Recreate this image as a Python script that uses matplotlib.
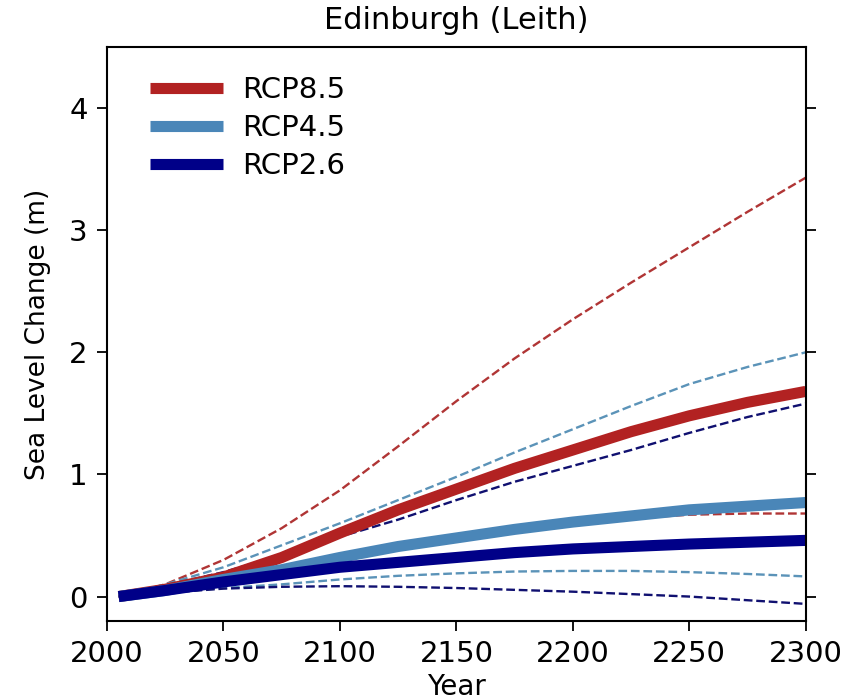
import matplotlib
matplotlib.use("Agg")
import matplotlib.pyplot as plt

# values
years = [2005, 2025, 2050, 2075, 2100, 2125, 2150, 2175, 2200, 2225, 2250, 2275, 2300]

rcp85_mid = [0.0, 0.06, 0.16, 0.32, 0.52, 0.71, 0.88, 1.05, 1.20, 1.35, 1.48, 1.59, 1.68]
rcp85_hi = [0.0, 0.10, 0.30, 0.56, 0.87, 1.23, 1.60, 1.95, 2.27, 2.57, 2.86, 3.15, 3.43]
rcp85_lo = [0.0, 0.05, 0.12, 0.21, 0.30, 0.40, 0.48, 0.55, 0.60, 0.64, 0.67, 0.68, 0.68]

rcp45_mid = [0.0, 0.05, 0.14, 0.22, 0.32, 0.41, 0.48, 0.55, 0.61, 0.66, 0.71, 0.74, 0.77]
rcp45_hi = [0.0, 0.10, 0.24, 0.42, 0.60, 0.79, 0.98, 1.18, 1.37, 1.56, 1.74, 1.88, 2.00]
rcp45_lo = [0.0, 0.03, 0.07, 0.10, 0.14, 0.17, 0.19, 0.205, 0.21, 0.21, 0.20, 0.185, 0.165]

rcp26_mid = [0.0, 0.05, 0.12, 0.18, 0.24, 0.28, 0.32, 0.36, 0.39, 0.41, 0.43, 0.445, 0.46]
rcp26_hi = [0.0, 0.09, 0.20, 0.34, 0.49, 0.63, 0.79, 0.94, 1.07, 1.20, 1.34, 1.47, 1.58]
rcp26_lo = [0.0, 0.03, 0.065, 0.08, 0.085, 0.08, 0.07, 0.055, 0.04, 0.02, 0.0, -0.03, -0.06]

red = "#b22222"
light_blue = "#4a86b8"
navy = "#000088"

fig = plt.figure(figsize=(8.59, 6.99), dpi=100)
ax = fig.add_axes([0.1246, 0.1116, 0.8134, 0.8212])

# the 5-95% range lines go underneath
ax.plot(years, rcp85_hi, "--", color="#b03535", lw=1.7)
ax.plot(years, rcp85_lo, "--", color="#b03535", lw=1.7)
ax.plot(years, rcp45_hi, "--", color="#5b93b8", lw=1.7)
ax.plot(years, rcp45_lo, "--", color="#5b93b8", lw=1.7)
ax.plot(years, rcp26_hi, "--", color="#101070", lw=1.7)
ax.plot(years, rcp26_lo, "--", color="#101070", lw=1.7)

ax.plot(years, rcp85_mid, color=red, lw=8, solid_capstyle="butt", label="RCP8.5")
ax.plot(years, rcp45_mid, color=light_blue, lw=8, solid_capstyle="butt", label="RCP4.5")
ax.plot(years, rcp26_mid, color=navy, lw=8, solid_capstyle="butt", label="RCP2.6")

ax.set_xlim(2000, 2300)
ax.set_ylim(-0.2, 4.5)
ax.set_xticks([2000, 2050, 2100, 2150, 2200, 2250, 2300])
ax.set_yticks([0, 1, 2, 3, 4])

for side in ["left", "right", "top", "bottom"]:
    ax.spines[side].set_linewidth(1.5)

ax.tick_params(axis="both", direction="out", length=7, width=1.3,
               labelsize=21, pad=7)
ax.tick_params(axis="y", right=True, labelright=False)

ax.set_title("Edinburgh (Leith)", fontsize=22, pad=13)
ax.set_xlabel("Year", fontsize=20, labelpad=3)
ax.set_ylabel("Sea Level Change (m)", fontsize=19, labelpad=13)

leg = ax.legend(loc="upper left", bbox_to_anchor=(0.0615, 0.949), frameon=False,
                fontsize=21, handlelength=2.5, handletextpad=0.65,
                labelspacing=0.34, borderpad=0, borderaxespad=0)

fig.savefig("out.png", dpi=100)
